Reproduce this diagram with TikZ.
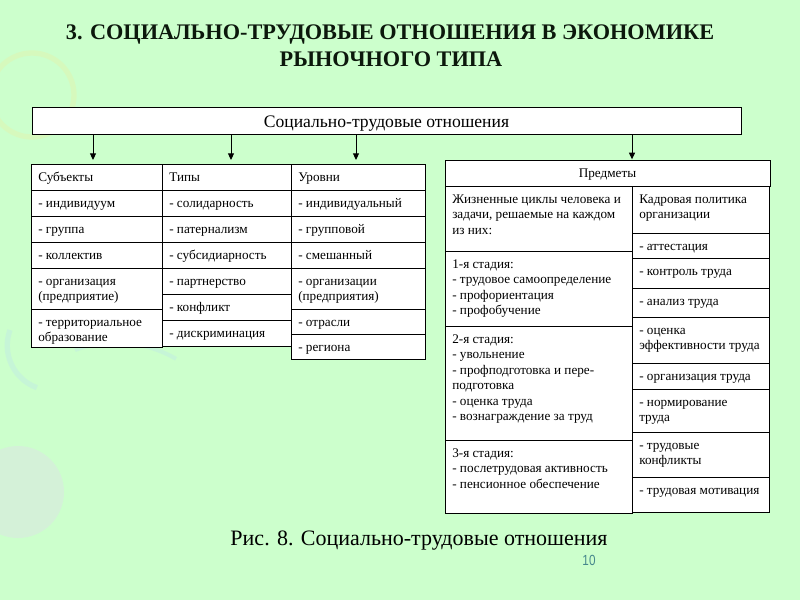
\documentclass[tikz,border=0pt]{standalone}
\usepackage{fontspec}
\setmainfont{Liberation Serif}
\newfontfamily\numfont{Liberation Sans}
\usetikzlibrary{arrows.meta}
\definecolor{bgc}{RGB}{204,255,204}
\definecolor{titlec}{RGB}{12,24,12}
\definecolor{numc}{RGB}{70,135,140}
\definecolor{decoY}{RGB}{222,246,180}
\definecolor{decoP}{RGB}{222,226,232}
\definecolor{decoB}{RGB}{194,236,226}
\tikzset{
  cellbox/.style={draw=black, fill=white, line width=0.75pt, inner sep=0pt, outer sep=0pt, anchor=north west},
  celltext/.style={anchor=north west, inner sep=0pt, align=left, font=\fontsize{9.9pt}{11.6pt}\selectfont},
  arr/.style={line width=0.75pt, -{Triangle[length=5pt,width=4.5pt]}, shorten >=3pt},
  titletext/.style={anchor=base, text=titlec, font=\fontsize{16.7pt}{19pt}\selectfont\bfseries}
}
\newcommand\mkcell[6]{%
  \node[cellbox, minimum width={(#4-#2)*0.75pt}, minimum height={(#5-#3)*0.75pt}] (#1) at (#2,#3) {};
  \node[celltext] (#1t) at ([shift={(7,6.2)}]#1.north west) {\strut #6};
}
\begin{document}
\begin{tikzpicture}[x=0.75pt,y=-0.75pt]
\fill[bgc] (0,0) rectangle (800,600);
\useasboundingbox (0,0) rectangle (800,600);
% faint background decorations
\draw[decoY, line width=4pt, opacity=0.6] (32,95) circle (42);
\fill[decoP, opacity=0.45] (18,492) circle (46);
\draw[decoB, line width=4pt, opacity=0.5] (10,330) arc (200:110:45);
\draw[decoB, line width=3pt, opacity=0.5] (75,350) arc (250:300:120);

% title
\node[titletext] (title1) at (390,39) {3. СОЦИАЛЬНО-ТРУДОВЫЕ ОТНОШЕНИЯ В ЭКОНОМИКЕ};
\node[titletext] (title2) at (391,66) {РЫНОЧНОГО ТИПА};

% top box
\node[cellbox, minimum width={709*0.75pt}, minimum height={27*0.75pt}] (top) at (32,107) {};
\node[anchor=base, inner sep=0pt, font=\fontsize{13.2pt}{15pt}\selectfont] (topt) at ([shift={(0,7)}]top.center) {Социально-трудовые отношения};

% column 1
\mkcell{s0}{31}{164}{162}{190}{Субъекты}
\mkcell{s1}{31}{190}{162}{216}{- индивидуум}
\mkcell{s2}{31}{216}{162}{242}{- группа}
\mkcell{s3}{31}{242}{162}{268}{- коллектив}
\mkcell{s4}{31}{268}{162}{309}{- организация\\(предприятие)}
\mkcell{s5}{31}{309}{162}{347}{- территориальное\\образование}
% column 2
\mkcell{t0}{162}{164}{291}{190}{Типы}
\mkcell{t1}{162}{190}{291}{216}{- солидарность}
\mkcell{t2}{162}{216}{291}{242}{- патернализм}
\mkcell{t3}{162}{242}{291}{268}{- субсидиарность}
\mkcell{t4}{162}{268}{291}{294}{- партнерство}
\mkcell{t5}{162}{294}{291}{320}{- конфликт}
\mkcell{t6}{162}{320}{291}{346}{- дискриминация}
% column 3
\mkcell{u0}{291}{164}{425}{190}{Уровни}
\mkcell{u1}{291}{190}{425}{216}{- индивидуальный}
\mkcell{u2}{291}{216}{425}{242}{- групповой}
\mkcell{u3}{291}{242}{425}{268}{- смешанный}
\mkcell{u4}{291}{268}{425}{309}{- организации\\(предприятия)}
\mkcell{u5}{291}{309}{425}{334}{- отрасли}
\mkcell{u6}{291}{334}{425}{359}{- региона}

% right table
\node[cellbox, minimum width={325*0.75pt}, minimum height={26*0.75pt}] (p0) at (445,160) {};
\node[anchor=base, inner sep=0pt, font=\fontsize{9.9pt}{11.6pt}\selectfont] (p0t) at ([shift={(0,4.5)}]p0.center) {Предметы};
\mkcell{j0}{445}{186}{632}{251}{Жизненные циклы человека и\\задачи, решаемые на каждом\\из них:}
\mkcell{j1}{445}{251}{632}{326}{1-я стадия:\\- трудовое самоопределение\\- профориентация\\- профобучение}
\mkcell{j2}{445}{326}{632}{440}{2-я стадия:\\- увольнение\\- профподготовка и пере-\\подготовка\\- оценка труда\\- вознаграждение за труд}
\mkcell{j3}{445}{440}{632}{513}{3-я стадия:\\- послетрудовая активность\\- пенсионное обеспечение}
\mkcell{k0}{632}{186}{769}{233}{Кадровая политика\\организации}
\mkcell{k1}{632}{233}{769}{258}{- аттестация}
\mkcell{k2}{632}{258}{769}{288}{- контроль труда}
\mkcell{k3}{632}{288}{769}{317}{- анализ труда}
\mkcell{k4}{632}{317}{769}{363}{- оценка\\эффективности труда}
\mkcell{k5}{632}{363}{769}{389}{- организация труда}
\mkcell{k6}{632}{389}{769}{432}{- нормирование\\труда}
\mkcell{k7}{632}{432}{769}{477}{- трудовые\\конфликты}
\mkcell{k8}{632}{477}{769}{512}{- трудовая мотивация}

% arrows
\coordinate (a1) at (93,0);
\coordinate (a2) at (231,0);
\coordinate (a3) at (356,0);
\coordinate (a4) at (632,0);
\draw[arr] (top.south -| a1) -- (s0.north -| a1);
\draw[arr] (top.south -| a2) -- (t0.north -| a2);
\draw[arr] (top.south -| a3) -- (u0.north -| a3);
\draw[arr, shorten >=0.5pt] (top.south -| a4) -- (p0.north -| a4);

% caption
\node[anchor=base, font=\fontsize{16.5pt}{19pt}\selectfont] (caption) at (419,545) {Рис. 8. Социально-трудовые отношения};
\node[anchor=base, text=numc, font=\numfont\fontsize{11pt}{13pt}\selectfont] (pagenum) at (589,565) {\scalebox{0.8}[1]{10}};
\end{tikzpicture}
\end{document}
